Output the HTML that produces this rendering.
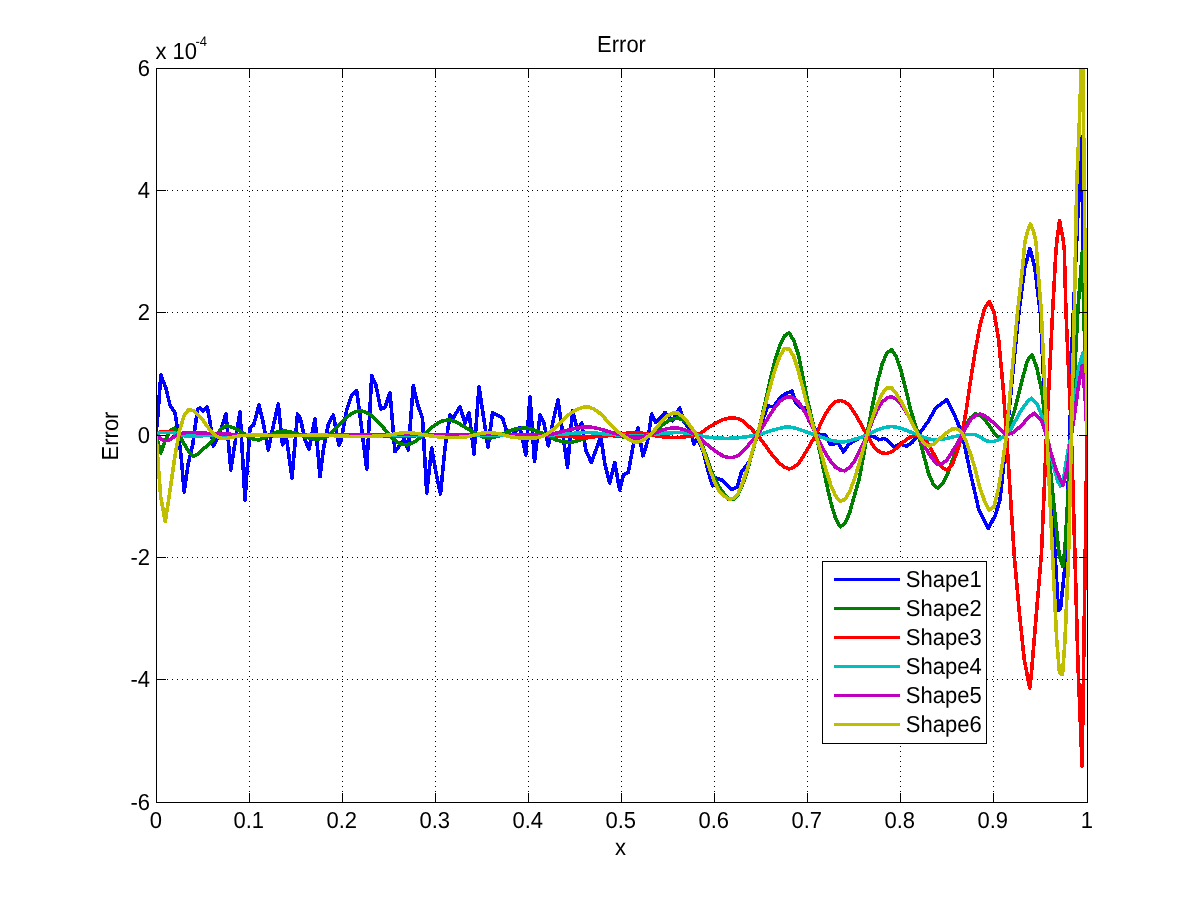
<!DOCTYPE html>
<html><head><meta charset="utf-8"><title>Error</title>
<style>
html,body{margin:0;padding:0;background:#fff;}
body{width:1201px;height:901px;position:relative;overflow:hidden;}
.t{font-family:"Liberation Sans",sans-serif;font-size:22.0px;fill:#000;text-rendering:geometricPrecision;}
</style></head><body>
<svg width="1201" height="901" viewBox="0 0 1201 901" style="position:absolute;left:0;top:0">
<defs><clipPath id="c"><rect x="157" y="69" width="930" height="733"/></clipPath></defs>
<rect x="0" y="0" width="1201" height="901" fill="#ffffff"/>
<g stroke="#000" stroke-width="1" stroke-dasharray="1 4" shape-rendering="crispEdges"><line x1="249.5" y1="71.0" x2="249.5" y2="802.0"/><line x1="342.5" y1="71.0" x2="342.5" y2="802.0"/><line x1="435.5" y1="71.0" x2="435.5" y2="802.0"/><line x1="528.5" y1="71.0" x2="528.5" y2="802.0"/><line x1="621.5" y1="71.0" x2="621.5" y2="802.0"/><line x1="714.5" y1="71.0" x2="714.5" y2="802.0"/><line x1="807.5" y1="71.0" x2="807.5" y2="802.0"/><line x1="900.5" y1="71.0" x2="900.5" y2="802.0"/><line x1="993.5" y1="71.0" x2="993.5" y2="802.0"/><line x1="157.0" y1="190.5" x2="1087.0" y2="190.5"/><line x1="157.0" y1="312.5" x2="1087.0" y2="312.5"/><line x1="157.0" y1="435.5" x2="1087.0" y2="435.5"/><line x1="157.0" y1="557.5" x2="1087.0" y2="557.5"/><line x1="157.0" y1="679.5" x2="1087.0" y2="679.5"/></g>
<g clip-path="url(#c)" fill="none" stroke-width="3.6" stroke-linejoin="round" stroke-linecap="butt" shape-rendering="crispEdges">
<path stroke="#0000ff" d="M156.0,433.0 L157.5,420.0 L160.8,375.0 L165.8,388.0 L170.0,405.0 L175.0,413.0 L178.0,432.0 L181.0,455.0 L184.2,492.0 L188.3,463.0 L192.7,445.0 L195.0,428.0 L197.5,409.0 L200.0,408.0 L202.7,411.0 L207.3,407.0 L210.0,421.7 L213.3,446.0 L216.7,440.0 L221.7,427.0 L226.0,413.5 L230.8,470.0 L236.7,431.7 L240.0,411.7 L245.0,500.0 L250.0,428.0 L253.7,425.0 L259.0,405.0 L263.0,421.7 L268.3,450.0 L272.4,430.0 L278.3,404.0 L282.5,445.0 L286.3,436.7 L292.0,478.0 L297.5,414.0 L300.3,418.0 L305.0,440.0 L309.0,449.0 L315.0,419.0 L320.0,476.7 L323.6,448.0 L328.2,425.0 L333.3,415.0 L339.0,445.0 L341.0,441.0 L346.7,410.0 L351.7,395.0 L356.7,390.8 L360.8,421.7 L366.7,469.0 L371.7,375.8 L375.8,385.0 L380.8,409.0 L385.0,407.5 L390.0,392.5 L395.0,451.7 L404.2,439.0 L408.3,450.0 L413.3,385.8 L418.3,406.7 L422.5,418.0 L426.7,493.0 L431.7,448.0 L435.8,471.7 L440.5,494.0 L445.0,448.0 L450.0,415.0 L453.3,418.0 L460.0,406.7 L465.0,423.0 L469.0,412.5 L474.0,454.0 L479.0,386.7 L484.0,420.0 L488.0,447.5 L492.5,412.5 L502.5,418.0 L506.7,431.7 L511.7,435.0 L520.0,427.5 L525.8,455.0 L530.0,396.7 L534.5,461.7 L540.0,415.0 L544.0,423.0 L548.3,445.8 L553.3,420.0 L558.0,400.0 L567.5,467.5 L572.5,410.8 L577.5,430.0 L581.7,423.0 L585.8,450.0 L591.3,462.5 L596.7,448.0 L600.8,436.7 L605.0,465.0 L609.7,483.0 L614.7,462.5 L619.7,490.0 L623.3,475.0 L628.3,472.5 L633.3,445.0 L638.0,428.0 L643.0,455.8 L647.5,441.7 L651.7,414.0 L655.8,422.5 L665.0,412.5 L672.5,420.8 L679.7,408.0 L684.0,421.7 L690.0,430.0 L694.0,444.0 L697.5,438.0 L703.3,451.7 L708.3,471.7 L712.5,485.8 L715.8,478.0 L722.6,480.4 L732.0,489.7 L737.3,487.0 L741.3,472.4 L749.3,461.8 L757.2,435.0 L763.9,416.5 L767.9,405.8 L773.2,407.0 L781.2,396.5 L785.2,393.9 L791.9,391.2 L795.8,403.0 L799.8,407.0 L806.5,408.5 L811.8,421.8 L817.0,433.8 L825.0,435.0 L830.5,444.5 L838.4,443.0 L843.5,452.0 L849.0,444.0 L859.7,437.8 L866.9,435.0 L874.7,437.0 L878.8,439.8 L884.4,438.4 L890.0,442.6 L894.0,446.8 L899.7,444.0 L906.6,446.0 L912.0,442.6 L918.5,435.0 L928.8,420.4 L935.7,408.0 L946.8,399.6 L953.8,413.5 L962.0,433.0 L970.4,473.0 L978.7,509.0 L988.4,528.6 L995.4,514.8 L1000.0,500.0 L1006.8,435.0 L1012.6,375.0 L1018.9,312.7 L1024.7,268.0 L1029.9,248.4 L1034.8,268.0 L1040.3,312.7 L1046.3,435.0 L1054.8,550.0 L1058.4,610.6 L1060.6,608.0 L1065.9,557.0 L1069.8,435.0 L1072.5,330.0 L1077.0,235.0 L1081.0,137.0 L1087.0,435.0"/>
<path stroke="#008000" d="M156.0,435.0 L160.7,453.0 L165.3,440.3 L170.0,430.5 L174.6,428.3 L179.3,434.8 L183.9,443.5 L188.6,451.1 L193.2,456.5 L197.9,454.3 L202.6,449.5 L207.2,445.8 L211.9,441.5 L216.5,434.6 L221.2,429.0 L225.8,425.9 L230.5,426.6 L235.1,428.6 L239.8,431.0 L244.4,433.9 L249.1,437.1 L253.8,439.1 L258.4,440.0 L263.1,438.4 L267.7,436.1 L272.4,434.0 L277.0,432.2 L281.7,431.3 L286.3,431.1 L291.0,432.1 L295.7,433.3 L300.3,434.9 L305.0,436.9 L309.6,438.1 L314.3,438.9 L318.9,438.8 L323.6,437.9 L328.2,435.9 L332.9,431.2 L337.5,426.4 L342.2,421.7 L346.9,416.9 L351.5,413.7 L356.2,411.5 L360.8,410.8 L365.5,412.2 L370.1,414.6 L374.8,418.4 L379.4,423.4 L384.1,428.6 L388.8,433.8 L393.4,439.1 L398.1,442.5 L402.7,444.5 L407.4,444.8 L412.0,443.1 L416.7,440.5 L421.3,436.6 L426.0,432.5 L430.6,428.4 L435.3,424.8 L440.0,421.8 L444.6,420.5 L449.3,420.0 L453.9,421.2 L458.6,423.3 L463.2,426.1 L467.9,429.0 L472.5,431.7 L477.2,434.3 L481.9,436.7 L486.5,437.7 L491.2,437.9 L495.8,436.7 L500.5,435.0 L505.1,432.9 L509.8,430.9 L514.4,429.3 L519.1,428.5 L523.7,428.1 L528.4,428.3 L533.1,429.8 L537.7,431.4 L542.4,433.2 L547.0,435.1 L551.7,437.6 L556.3,439.9 L561.0,441.3 L565.6,442.2 L570.3,442.4 L575.0,441.5 L579.6,440.1 L584.3,438.7 L588.9,437.2 L593.6,436.3 L598.2,435.6 L602.9,435.5 L607.5,435.5 L612.2,435.6 L616.8,436.0 L621.5,436.6 L626.2,437.7 L630.8,438.6 L635.5,439.0 L640.1,438.4 L644.8,437.0 L649.4,435.3 L654.1,432.1 L658.7,428.0 L663.4,424.3 L668.1,420.9 L672.7,419.0 L677.4,418.0 L682.0,419.6 L686.7,422.8 L691.3,427.8 L696.0,432.9 L700.6,441.4 L705.3,453.5 L709.9,467.1 L714.6,478.4 L719.3,487.1 L723.9,493.7 L728.6,499.3 L733.2,499.4 L737.9,494.9 L742.5,484.8 L747.2,471.0 L751.8,454.1 L756.5,437.6 L761.2,419.7 L765.8,400.0 L770.5,378.4 L775.1,360.0 L779.8,345.5 L784.4,335.9 L789.1,333.0 L793.7,340.3 L798.4,354.8 L803.0,377.2 L807.7,401.0 L812.4,421.2 L817.0,439.1 L821.7,460.5 L826.3,482.9 L831.0,503.2 L835.6,518.5 L840.3,526.8 L844.9,523.4 L849.6,513.0 L854.3,495.8 L858.9,480.2 L863.6,455.4 L868.2,427.8 L872.9,403.5 L877.5,381.8 L882.2,364.1 L886.8,353.0 L891.5,349.7 L896.1,356.2 L900.8,369.9 L905.5,388.1 L910.1,407.8 L914.8,423.6 L919.4,438.3 L924.1,456.6 L928.7,473.8 L933.4,484.6 L938.0,488.2 L942.7,483.4 L947.4,474.1 L952.0,461.7 L956.7,448.5 L961.3,436.6 L966.0,425.5 L970.6,417.9 L975.3,413.6 L979.9,415.4 L984.6,419.5 L989.2,425.3 L993.9,432.7 L998.6,437.1 L1003.2,437.5 L1006.5,435.0 L1014.4,411.0 L1021.6,382.0 L1027.4,360.5 L1032.0,354.7 L1036.8,367.7 L1041.8,390.8 L1046.9,435.0 L1053.0,496.0 L1059.2,555.0 L1062.8,566.6 L1065.0,548.0 L1071.4,435.0 L1077.9,310.0 L1082.3,252.0 L1087.0,435.0"/>
<path stroke="#ff0000" d="M156.0,434.0 L160.7,431.8 L165.3,431.8 L170.0,431.8 L174.6,432.6 L179.3,434.6 L183.9,435.3 L188.6,435.3 L193.2,435.3 L197.9,435.3 L202.6,435.3 L207.2,435.3 L211.9,435.2 L216.5,435.1 L221.2,435.1 L225.8,435.0 L230.5,435.0 L235.1,435.0 L239.8,435.0 L244.4,435.0 L249.1,435.0 L253.8,435.0 L258.4,435.0 L263.1,435.0 L267.7,435.0 L272.4,435.0 L277.0,435.0 L281.7,435.0 L286.3,435.0 L291.0,435.0 L295.7,435.0 L300.3,435.0 L305.0,435.0 L309.6,435.1 L314.3,435.1 L318.9,435.2 L323.6,435.3 L328.2,435.4 L332.9,435.5 L337.5,435.6 L342.2,435.7 L346.9,435.8 L351.5,435.8 L356.2,435.9 L360.8,435.9 L365.5,435.9 L370.1,436.0 L374.8,436.0 L379.4,436.0 L384.1,436.0 L388.8,436.0 L393.4,436.0 L398.1,436.0 L402.7,436.0 L407.4,436.0 L412.0,436.0 L416.7,435.6 L421.3,435.1 L426.0,435.0 L430.6,435.0 L435.3,435.0 L440.0,435.0 L444.6,435.0 L449.3,435.0 L453.9,435.0 L458.6,435.1 L463.2,435.2 L467.9,435.3 L472.5,435.4 L477.2,435.6 L481.9,435.8 L486.5,435.9 L491.2,436.0 L495.8,435.9 L500.5,435.7 L505.1,435.5 L509.8,435.3 L514.4,435.1 L519.1,435.0 L523.7,435.0 L528.4,435.0 L533.1,435.0 L537.7,435.0 L542.4,435.0 L547.0,435.0 L551.7,435.2 L556.3,435.7 L561.0,436.1 L565.6,436.4 L570.3,436.6 L575.0,436.8 L579.6,436.9 L584.3,437.0 L588.9,437.0 L593.6,436.8 L598.2,436.5 L602.9,436.2 L607.5,435.7 L612.2,435.2 L616.8,434.6 L621.5,433.9 L626.2,433.3 L630.8,433.0 L635.5,433.0 L640.1,433.0 L644.8,433.5 L649.4,434.4 L654.1,435.4 L658.7,436.3 L663.4,436.8 L668.1,437.2 L672.7,437.5 L677.4,437.5 L682.0,437.1 L686.7,436.6 L691.3,436.1 L696.0,435.2 L700.6,433.0 L705.3,429.8 L709.9,426.7 L714.6,423.7 L719.3,421.2 L723.9,419.3 L728.6,418.3 L733.2,417.8 L737.9,418.7 L742.5,420.8 L747.2,424.8 L751.8,429.2 L756.5,434.2 L761.2,439.9 L765.8,446.1 L770.5,452.7 L775.1,458.5 L779.8,463.5 L784.4,467.1 L789.1,469.0 L793.7,467.3 L798.4,463.7 L803.0,456.7 L807.7,448.9 L812.4,440.7 L817.0,432.0 L821.7,421.7 L826.3,412.7 L831.0,405.8 L835.6,401.7 L840.3,400.5 L844.9,401.8 L849.6,405.6 L854.3,412.5 L858.9,420.4 L863.6,428.8 L868.2,437.4 L872.9,445.3 L877.5,450.5 L882.2,452.9 L886.8,453.6 L891.5,451.8 L896.1,448.6 L900.8,444.3 L905.5,440.3 L910.1,437.2 L914.8,435.4 L919.4,435.1 L924.1,438.1 L928.7,444.9 L933.4,453.4 L938.0,461.6 L942.7,467.7 L947.4,470.3 L952.0,465.0 L956.7,453.0 L961.3,437.8 L966.0,411.8 L970.6,380.2 L975.3,350.6 L979.9,325.7 L984.6,308.6 L989.2,301.7 L993.9,311.7 L998.6,339.3 L1003.2,388.1 L1006.5,435.0 L1014.4,557.7 L1019.3,612.0 L1024.3,660.0 L1029.8,688.0 L1031.0,678.0 L1036.0,618.0 L1041.5,553.0 L1046.5,435.0 L1052.7,310.0 L1056.0,250.0 L1057.0,240.0 L1059.5,220.5 L1063.2,240.0 L1064.3,250.0 L1065.9,310.0 L1071.4,435.0 L1075.0,557.7 L1078.0,665.0 L1082.1,766.3 L1087.0,435.0"/>
<path stroke="#00bfbf" d="M156.0,434.0 L160.7,432.4 L165.3,432.3 L170.0,432.3 L174.6,432.9 L179.3,434.2 L183.9,435.7 L188.6,435.7 L193.2,435.7 L197.9,435.7 L202.6,435.7 L207.2,435.6 L211.9,435.6 L216.5,435.5 L221.2,435.3 L225.8,435.1 L230.5,435.0 L235.1,435.0 L239.8,435.0 L244.4,435.0 L249.1,435.0 L253.8,435.0 L258.4,435.0 L263.1,435.0 L267.7,435.0 L272.4,435.0 L277.0,435.0 L281.7,435.0 L286.3,435.0 L291.0,435.0 L295.7,435.0 L300.3,435.0 L305.0,435.0 L309.6,435.0 L314.3,435.0 L318.9,435.0 L323.6,435.0 L328.2,435.0 L332.9,435.0 L337.5,435.0 L342.2,435.0 L346.9,435.0 L351.5,435.0 L356.2,435.0 L360.8,435.0 L365.5,435.0 L370.1,435.0 L374.8,435.0 L379.4,435.0 L384.1,435.0 L388.8,435.0 L393.4,435.0 L398.1,435.0 L402.7,435.0 L407.4,435.0 L412.0,435.0 L416.7,435.0 L421.3,435.0 L426.0,435.0 L430.6,435.0 L435.3,435.0 L440.0,435.0 L444.6,435.0 L449.3,435.0 L453.9,435.0 L458.6,435.0 L463.2,435.0 L467.9,435.0 L472.5,435.0 L477.2,435.0 L481.9,435.0 L486.5,435.0 L491.2,435.0 L495.8,435.0 L500.5,435.0 L505.1,435.0 L509.8,435.0 L514.4,435.0 L519.1,435.0 L523.7,435.0 L528.4,435.0 L533.1,435.0 L537.7,435.0 L542.4,435.0 L547.0,435.0 L551.7,434.9 L556.3,434.6 L561.0,434.3 L565.6,434.0 L570.3,433.6 L575.0,433.2 L579.6,432.8 L584.3,432.5 L588.9,432.5 L593.6,432.9 L598.2,433.3 L602.9,433.8 L607.5,434.2 L612.2,434.5 L616.8,434.8 L621.5,435.0 L626.2,435.3 L630.8,435.6 L635.5,435.7 L640.1,435.6 L644.8,435.4 L649.4,435.0 L654.1,434.5 L658.7,433.8 L663.4,433.3 L668.1,433.0 L672.7,432.7 L677.4,432.5 L682.0,432.6 L686.7,433.0 L691.3,433.7 L696.0,434.8 L700.6,435.8 L705.3,436.7 L709.9,437.4 L714.6,437.9 L719.3,438.1 L723.9,438.3 L728.6,438.3 L733.2,438.1 L737.9,437.8 L742.5,437.3 L747.2,436.6 L751.8,435.9 L756.5,435.1 L761.2,433.9 L765.8,432.4 L770.5,430.9 L775.1,429.5 L779.8,428.3 L784.4,427.3 L789.1,427.0 L793.7,427.9 L798.4,429.1 L803.0,430.7 L807.7,432.4 L812.4,433.9 L817.0,435.4 L821.7,437.3 L826.3,438.9 L831.0,440.4 L835.6,441.2 L840.3,441.7 L844.9,441.7 L849.6,440.7 L854.3,439.4 L858.9,438.1 L863.6,436.4 L868.2,434.4 L872.9,432.0 L877.5,429.9 L882.2,428.2 L886.8,427.1 L891.5,426.5 L896.1,427.1 L900.8,428.2 L905.5,430.0 L910.1,431.9 L914.8,433.6 L919.4,435.4 L924.1,437.3 L928.7,438.8 L933.4,439.8 L938.0,439.6 L942.7,439.2 L947.4,438.2 L952.0,437.1 L956.7,436.1 L961.3,435.1 L966.0,434.4 L970.6,434.3 L975.3,434.7 L979.9,437.0 L984.6,439.8 L989.2,441.7 L993.9,441.5 L998.6,439.7 L1003.2,436.8 L1006.5,435.0 L1008.7,434.0 L1014.4,422.6 L1021.6,409.6 L1028.9,400.0 L1031.7,398.3 L1037.5,405.0 L1043.3,419.7 L1046.9,435.0 L1053.4,466.0 L1057.7,481.0 L1060.5,486.0 L1064.0,476.0 L1067.8,451.6 L1071.4,435.0 L1075.0,400.0 L1078.6,367.7 L1083.0,353.0 L1087.0,435.0"/>
<path stroke="#bf00bf" d="M156.0,435.0 L160.7,438.9 L165.3,440.8 L170.0,439.5 L174.6,436.7 L179.3,433.8 L183.9,433.0 L188.6,432.4 L193.2,432.4 L197.9,432.9 L202.6,433.1 L207.2,433.3 L211.9,433.4 L216.5,433.6 L221.2,433.8 L225.8,434.1 L230.5,434.3 L235.1,434.4 L239.8,434.5 L244.4,434.6 L249.1,434.6 L253.8,434.6 L258.4,434.6 L263.1,434.6 L267.7,434.6 L272.4,434.6 L277.0,434.6 L281.7,434.6 L286.3,434.6 L291.0,434.6 L295.7,434.6 L300.3,434.6 L305.0,434.6 L309.6,434.6 L314.3,434.6 L318.9,434.6 L323.6,434.6 L328.2,434.6 L332.9,434.6 L337.5,434.6 L342.2,434.6 L346.9,434.6 L351.5,434.5 L356.2,434.5 L360.8,434.5 L365.5,434.5 L370.1,434.5 L374.8,434.5 L379.4,434.5 L384.1,434.5 L388.8,434.5 L393.4,434.5 L398.1,434.5 L402.7,434.5 L407.4,434.5 L412.0,434.5 L416.7,434.5 L421.3,434.5 L426.0,434.5 L430.6,434.5 L435.3,434.5 L440.0,434.5 L444.6,434.5 L449.3,434.5 L453.9,434.5 L458.6,434.5 L463.2,434.5 L467.9,434.5 L472.5,434.5 L477.2,434.6 L481.9,434.6 L486.5,434.6 L491.2,434.6 L495.8,434.6 L500.5,434.6 L505.1,434.7 L509.8,434.8 L514.4,434.9 L519.1,435.0 L523.7,435.1 L528.4,435.2 L533.1,435.2 L537.7,435.2 L542.4,435.1 L547.0,435.0 L551.7,434.3 L556.3,433.0 L561.0,431.8 L565.6,430.6 L570.3,429.5 L575.0,428.5 L579.6,427.6 L584.3,426.8 L588.9,426.8 L593.6,427.6 L598.2,428.5 L602.9,429.8 L607.5,431.3 L612.2,432.6 L616.8,434.0 L621.5,435.1 L626.2,436.0 L630.8,436.6 L635.5,437.0 L640.1,436.8 L644.8,436.2 L649.4,435.2 L654.1,433.5 L658.7,431.5 L663.4,429.7 L668.1,428.5 L672.7,428.1 L677.4,428.0 L682.0,429.0 L686.7,430.6 L691.3,432.6 L696.0,435.0 L700.6,438.8 L705.3,443.0 L709.9,447.0 L714.6,450.6 L719.3,453.8 L723.9,456.3 L728.6,457.6 L733.2,457.4 L737.9,455.6 L742.5,451.6 L747.2,446.6 L751.8,441.1 L756.5,435.9 L761.2,429.2 L765.8,421.7 L770.5,413.9 L775.1,407.1 L779.8,401.5 L784.4,398.1 L789.1,396.5 L793.7,398.2 L798.4,401.8 L803.0,408.7 L807.7,417.1 L812.4,426.9 L817.0,437.0 L821.7,446.4 L826.3,454.8 L831.0,461.8 L835.6,467.2 L840.3,470.1 L844.9,470.8 L849.6,467.4 L854.3,461.5 L858.9,452.6 L863.6,442.8 L868.2,431.8 L872.9,419.6 L877.5,409.3 L882.2,402.1 L886.8,398.1 L891.5,396.8 L896.1,398.9 L900.8,403.8 L905.5,410.9 L910.1,419.2 L914.8,427.9 L919.4,436.7 L924.1,445.4 L928.7,453.3 L933.4,459.9 L938.0,464.7 L942.7,463.4 L947.4,459.5 L952.0,452.0 L956.7,444.6 L961.3,436.2 L966.0,427.5 L970.6,419.8 L975.3,415.3 L979.9,414.1 L984.6,415.8 L989.2,419.1 L993.9,423.1 L998.6,427.4 L1003.2,431.8 L1006.5,435.0 L1013.0,432.7 L1021.6,425.4 L1028.9,416.8 L1034.6,413.2 L1041.8,421.0 L1046.2,435.0 L1050.5,451.6 L1056.3,470.4 L1063.0,485.6 L1067.8,466.0 L1071.4,435.0 L1075.0,411.0 L1078.6,385.0 L1082.3,365.6 L1085.1,396.6 L1087.0,435.0"/>
<path stroke="#bfbf00" d="M156.0,435.0 L160.7,496.8 L165.3,521.7 L170.0,490.5 L174.6,458.3 L179.3,431.4 L183.9,415.9 L188.6,409.6 L193.2,410.6 L197.9,414.7 L202.6,419.9 L207.2,426.3 L211.9,432.3 L216.5,436.2 L221.2,438.3 L225.8,438.5 L230.5,437.6 L235.1,436.7 L239.8,435.8 L244.4,435.4 L249.1,435.2 L253.8,435.1 L258.4,435.0 L263.1,435.1 L267.7,435.3 L272.4,435.7 L277.0,435.9 L281.7,436.0 L286.3,435.9 L291.0,435.8 L295.7,435.6 L300.3,435.5 L305.0,435.4 L309.6,435.2 L314.3,435.1 L318.9,435.0 L323.6,435.1 L328.2,435.3 L332.9,435.6 L337.5,435.9 L342.2,436.1 L346.9,436.2 L351.5,436.4 L356.2,436.5 L360.8,436.5 L365.5,436.5 L370.1,436.4 L374.8,436.2 L379.4,436.0 L384.1,435.6 L388.8,435.0 L393.4,434.2 L398.1,433.5 L402.7,432.8 L407.4,432.5 L412.0,432.9 L416.7,433.5 L421.3,434.2 L426.0,435.0 L430.6,435.9 L435.3,436.5 L440.0,437.0 L444.6,437.3 L449.3,437.5 L453.9,437.5 L458.6,437.3 L463.2,437.1 L467.9,436.6 L472.5,435.4 L477.2,434.2 L481.9,433.2 L486.5,432.6 L491.2,432.7 L495.8,433.3 L500.5,434.1 L505.1,435.3 L509.8,436.6 L514.4,437.3 L519.1,437.8 L523.7,438.0 L528.4,438.2 L533.1,438.3 L537.7,437.6 L542.4,436.2 L547.0,433.8 L551.7,430.7 L556.3,426.8 L561.0,422.0 L565.6,417.4 L570.3,413.5 L575.0,410.5 L579.6,408.4 L584.3,406.9 L588.9,407.0 L593.6,409.0 L598.2,411.8 L602.9,416.2 L607.5,421.2 L612.2,426.2 L616.8,430.7 L621.5,434.4 L626.2,437.8 L630.8,440.4 L635.5,442.4 L640.1,441.5 L644.8,439.0 L649.4,435.5 L654.1,430.6 L658.7,425.1 L663.4,419.3 L668.1,415.4 L672.7,413.1 L677.4,412.8 L682.0,416.2 L686.7,421.0 L691.3,427.4 L696.0,433.8 L700.6,443.1 L705.3,455.7 L709.9,469.7 L714.6,482.3 L719.3,491.6 L723.9,495.9 L728.6,499.0 L733.2,498.6 L737.9,493.9 L742.5,483.0 L747.2,469.2 L751.8,453.2 L756.5,437.5 L761.2,420.6 L765.8,403.1 L770.5,385.4 L775.1,369.4 L779.8,356.4 L784.4,348.6 L789.1,348.9 L793.7,356.5 L798.4,370.8 L803.0,388.8 L807.7,406.5 L812.4,423.3 L817.0,439.1 L821.7,454.9 L826.3,471.4 L831.0,485.7 L835.6,496.0 L840.3,501.6 L844.9,499.3 L849.6,491.9 L854.3,479.2 L858.9,464.7 L863.6,447.4 L868.2,430.7 L872.9,416.3 L877.5,403.9 L882.2,393.6 L886.8,387.9 L891.5,387.7 L896.1,393.5 L900.8,401.1 L905.5,409.9 L910.1,418.8 L914.8,428.2 L919.4,436.6 L924.1,443.6 L928.7,445.9 L933.4,444.3 L938.0,440.2 L942.7,436.1 L947.4,432.1 L952.0,429.1 L956.7,428.5 L961.3,431.9 L966.0,441.2 L970.6,454.1 L975.3,469.4 L979.9,487.8 L984.6,501.1 L989.2,510.1 L993.9,506.8 L998.6,487.9 L1003.2,458.3 L1006.5,435.0 L1012.0,372.0 L1017.5,312.0 L1022.8,265.0 L1024.8,242.7 L1027.6,231.0 L1030.5,224.0 L1033.4,231.0 L1036.1,242.7 L1037.6,265.0 L1041.3,312.0 L1046.9,435.0 L1052.7,557.7 L1056.7,640.0 L1059.5,673.0 L1062.5,674.5 L1065.0,640.0 L1068.5,557.7 L1071.4,435.0 L1074.3,310.0 L1076.7,185.0 L1079.4,121.0 L1082.5,30.0 L1084.3,190.7 L1087.0,435.0"/>
</g>
<g stroke="#000" stroke-width="1" shape-rendering="crispEdges"><rect x="156.5" y="68.5" width="931" height="734" fill="none"/><line x1="156.5" y1="802.5" x2="156.5" y2="792.5"/><line x1="156.5" y1="68.5" x2="156.5" y2="77.5"/><line x1="249.5" y1="802.5" x2="249.5" y2="792.5"/><line x1="249.5" y1="68.5" x2="249.5" y2="77.5"/><line x1="342.5" y1="802.5" x2="342.5" y2="792.5"/><line x1="342.5" y1="68.5" x2="342.5" y2="77.5"/><line x1="435.5" y1="802.5" x2="435.5" y2="792.5"/><line x1="435.5" y1="68.5" x2="435.5" y2="77.5"/><line x1="528.5" y1="802.5" x2="528.5" y2="792.5"/><line x1="528.5" y1="68.5" x2="528.5" y2="77.5"/><line x1="621.5" y1="802.5" x2="621.5" y2="792.5"/><line x1="621.5" y1="68.5" x2="621.5" y2="77.5"/><line x1="714.5" y1="802.5" x2="714.5" y2="792.5"/><line x1="714.5" y1="68.5" x2="714.5" y2="77.5"/><line x1="807.5" y1="802.5" x2="807.5" y2="792.5"/><line x1="807.5" y1="68.5" x2="807.5" y2="77.5"/><line x1="900.5" y1="802.5" x2="900.5" y2="792.5"/><line x1="900.5" y1="68.5" x2="900.5" y2="77.5"/><line x1="993.5" y1="802.5" x2="993.5" y2="792.5"/><line x1="993.5" y1="68.5" x2="993.5" y2="77.5"/><line x1="1087.5" y1="802.5" x2="1087.5" y2="792.5"/><line x1="1087.5" y1="68.5" x2="1087.5" y2="77.5"/><line x1="156.5" y1="68.5" x2="165.5" y2="68.5"/><line x1="1087.5" y1="68.5" x2="1078.5" y2="68.5"/><line x1="156.5" y1="190.5" x2="165.5" y2="190.5"/><line x1="1087.5" y1="190.5" x2="1078.5" y2="190.5"/><line x1="156.5" y1="312.5" x2="165.5" y2="312.5"/><line x1="1087.5" y1="312.5" x2="1078.5" y2="312.5"/><line x1="156.5" y1="435.5" x2="165.5" y2="435.5"/><line x1="1087.5" y1="435.5" x2="1078.5" y2="435.5"/><line x1="156.5" y1="557.5" x2="165.5" y2="557.5"/><line x1="1087.5" y1="557.5" x2="1078.5" y2="557.5"/><line x1="156.5" y1="679.5" x2="165.5" y2="679.5"/><line x1="1087.5" y1="679.5" x2="1078.5" y2="679.5"/><line x1="156.5" y1="802.5" x2="165.5" y2="802.5"/><line x1="1087.5" y1="802.5" x2="1078.5" y2="802.5"/></g>
<rect x="822.5" y="561.5" width="164" height="182" fill="#fff" stroke="#000" stroke-width="1" shape-rendering="crispEdges"/>
<rect x="834" y="578" width="66" height="3" fill="#0000ff" shape-rendering="crispEdges"/>
<rect x="834" y="607" width="66" height="3" fill="#008000" shape-rendering="crispEdges"/>
<rect x="834" y="636" width="66" height="3" fill="#ff0000" shape-rendering="crispEdges"/>
<rect x="834" y="665" width="66" height="3" fill="#00bfbf" shape-rendering="crispEdges"/>
<rect x="834" y="694" width="66" height="3" fill="#bf00bf" shape-rendering="crispEdges"/>
<rect x="834" y="723" width="66" height="3" fill="#bfbf00" shape-rendering="crispEdges"/>
<g style="filter:grayscale(1)"><text transform="translate(905.8,587.0) scale(1.000,1.050)" class="t" text-anchor="start">Shape1</text><text transform="translate(905.8,616.0) scale(1.000,1.050)" class="t" text-anchor="start">Shape2</text><text transform="translate(905.8,645.0) scale(1.000,1.050)" class="t" text-anchor="start">Shape3</text><text transform="translate(905.8,674.0) scale(1.000,1.050)" class="t" text-anchor="start">Shape4</text><text transform="translate(905.8,703.0) scale(1.000,1.050)" class="t" text-anchor="start">Shape5</text><text transform="translate(905.8,732.0) scale(1.000,1.050)" class="t" text-anchor="start">Shape6</text><text transform="translate(155.8,828.0) scale(1.000,1.050)" class="t" text-anchor="middle">0</text><text transform="translate(248.8,828.0) scale(1.000,1.050)" class="t" text-anchor="middle">0.1</text><text transform="translate(341.8,828.0) scale(1.000,1.050)" class="t" text-anchor="middle">0.2</text><text transform="translate(434.8,828.0) scale(1.000,1.050)" class="t" text-anchor="middle">0.3</text><text transform="translate(527.8,828.0) scale(1.000,1.050)" class="t" text-anchor="middle">0.4</text><text transform="translate(620.8,828.0) scale(1.000,1.050)" class="t" text-anchor="middle">0.5</text><text transform="translate(713.8,828.0) scale(1.000,1.050)" class="t" text-anchor="middle">0.6</text><text transform="translate(806.8,828.0) scale(1.000,1.050)" class="t" text-anchor="middle">0.7</text><text transform="translate(899.8,828.0) scale(1.000,1.050)" class="t" text-anchor="middle">0.8</text><text transform="translate(992.8,828.0) scale(1.000,1.050)" class="t" text-anchor="middle">0.9</text><text transform="translate(1086.8,828.0) scale(1.000,1.050)" class="t" text-anchor="middle">1</text><text transform="translate(150.0,76.0) scale(1.000,1.050)" class="t" text-anchor="end">6</text><text transform="translate(150.0,198.0) scale(1.000,1.050)" class="t" text-anchor="end">4</text><text transform="translate(150.0,320.0) scale(1.000,1.050)" class="t" text-anchor="end">2</text><text transform="translate(150.0,443.0) scale(1.000,1.050)" class="t" text-anchor="end">0</text><text transform="translate(150.0,565.0) scale(1.000,1.050)" class="t" text-anchor="end">-2</text><text transform="translate(150.0,687.0) scale(1.000,1.050)" class="t" text-anchor="end">-4</text><text transform="translate(150.0,810.0) scale(1.000,1.050)" class="t" text-anchor="end">-6</text><text transform="translate(155.5,59.0) scale(1.000,1.050)" class="t" text-anchor="start">x 10</text><text transform="translate(195.5,45.6) scale(1.000,1.050)" class="t" text-anchor="start" style="font-size:13px">-4</text><text transform="translate(621.5,52.0) scale(1.000,1.050)" class="t" text-anchor="middle">Error</text><text transform="translate(620.5,855.0) scale(1.000,1.050)" class="t" text-anchor="middle">x</text><text transform="translate(118.0,436.0) rotate(-90) scale(1.000,1.050)" class="t" text-anchor="middle">Error</text></g>
</svg>
</body></html>
